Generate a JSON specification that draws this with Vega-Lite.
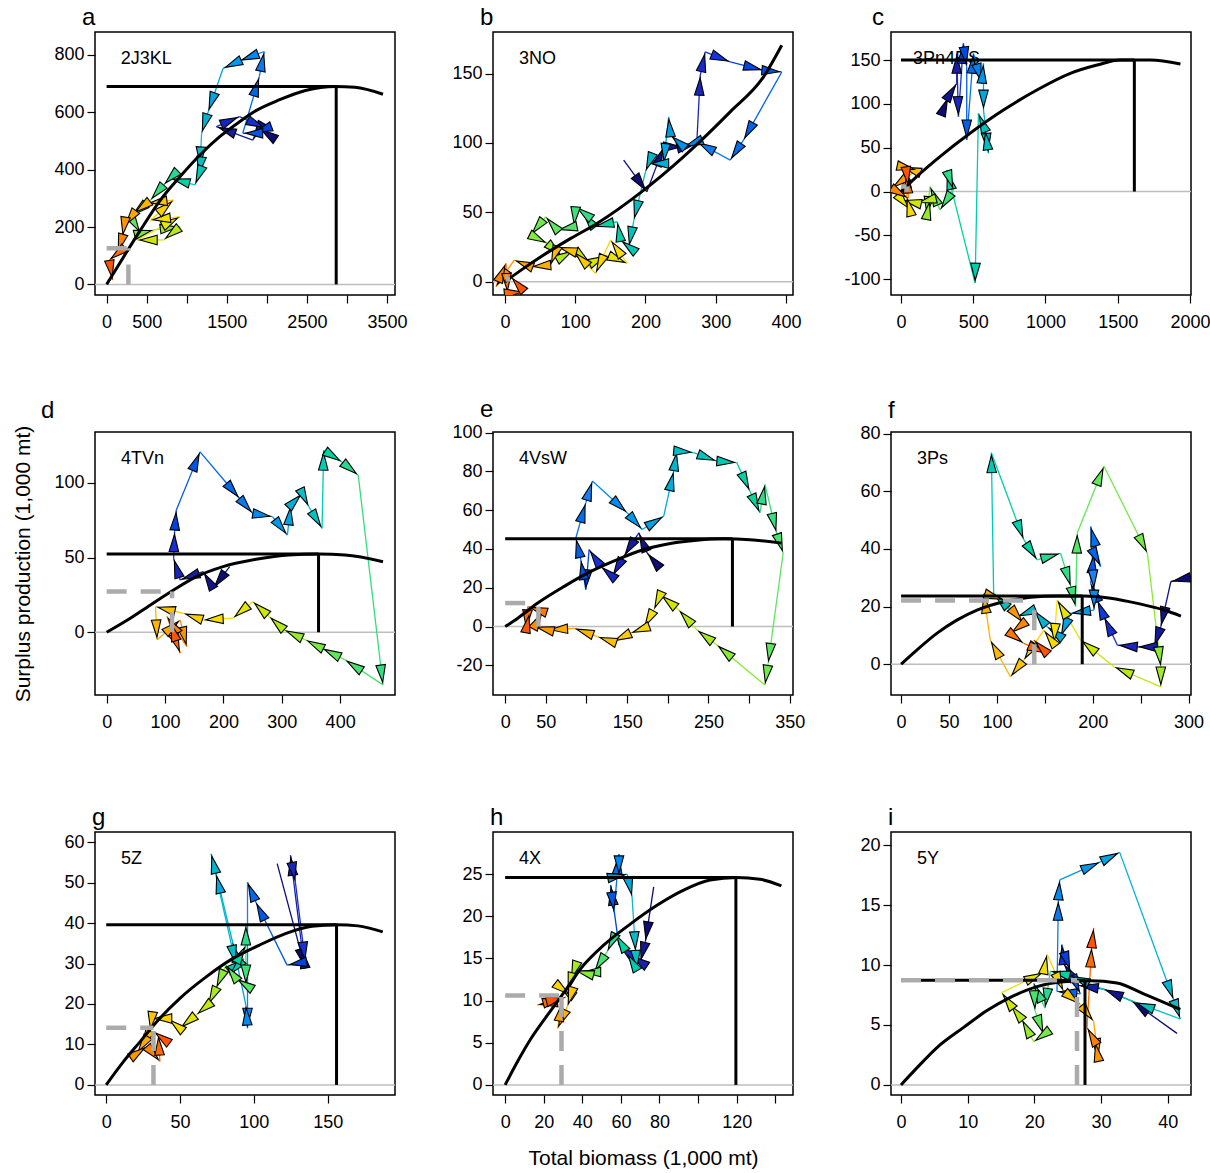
{
"$schema":"https://vega.github.io/schema/vega-lite/v6.json",
"padding":{"left":12,"top":5,"right":4,"bottom":4},
"columns":3,
"spacing":{"row":137,"column":98},
"bounds":"flush",
"resolve":{"scale":{"x":"independent","y":"independent","color":"independent","fill":"independent"},"axis":{"x":"independent","y":"independent"}},
"config":{
 "font":"Liberation Sans",
 "view":{"stroke":"black","strokeWidth":1.5},
 "axis":{"domain":false,"grid":false,"ticks":true,"tickColor":"black","tickSize":8,"tickWidth":1.2,"labelFontSize":18,"labelColor":"black","labelFont":"Liberation Sans","labelFlush":false,"labelOverlap":false,"labelBound":false,"titleFont":"Liberation Sans","titleFontSize":21,"titleFontWeight":"normal","titleColor":"black"},
 "axisX":{"labelPadding":10},
 "axisY":{"labelPadding":3},
 "point":{"shape":"M0,0.3L0.55,2.3L-0.55,2.3Z","filled":true,"opacity":1,"size":300,"stroke":"black","strokeWidth":1.1},
 "title":{"fontSize":24,"fontWeight":"normal","anchor":"start","dx":28,"offset":2,"baseline":"alphabetic","color":"black","font":"Liberation Sans"}
},
"datasets":{
"ta":[{"i":1,"x":2091,"y":509},{"i":2,"x":1906,"y":544},{"i":3,"x":1824,"y":503},{"i":4,"x":1371,"y":550},{"i":5,"x":1659,"y":585},{"i":6,"x":1988,"y":544},{"i":7,"x":1824,"y":527},{"i":8,"x":1700,"y":527},{"i":9,"x":1906,"y":724},{"i":10,"x":1968,"y":812},{"i":11,"x":1659,"y":779},{"i":12,"x":1453,"y":753},{"i":13,"x":1268,"y":602},{"i":14,"x":1186,"y":527},{"i":15,"x":1165,"y":410},{"i":16,"x":1144,"y":376},{"i":17,"x":1103,"y":347},{"i":18,"x":794,"y":370},{"i":19,"x":712,"y":347},{"i":20,"x":548,"y":294},{"i":21,"x":300,"y":236},{"i":22,"x":424,"y":178},{"i":23,"x":589,"y":190},{"i":24,"x":918,"y":201},{"i":25,"x":712,"y":155},{"i":26,"x":383,"y":155},{"i":27,"x":918,"y":236},{"i":28,"x":548,"y":224},{"i":29,"x":836,"y":294},{"i":30,"x":506,"y":283},{"i":31,"x":342,"y":248},{"i":32,"x":218,"y":201},{"i":33,"x":198,"y":166},{"i":34,"x":136,"y":108},{"i":35,"x":33,"y":85},{"i":36,"x":74,"y":15}],
"tb":[{"i":1,"x":169,"y":87.6},{"i":2,"x":202,"y":64.8},{"i":3,"x":226,"y":97.2},{"i":4,"x":254,"y":97.2},{"i":5,"x":273,"y":99.6},{"i":6,"x":278,"y":148.8},{"i":7,"x":285,"y":165.6},{"i":8,"x":320.6,"y":158.4},{"i":9,"x":368,"y":152.4},{"i":10,"x":394,"y":151.2},{"i":11,"x":339.5,"y":102},{"i":12,"x":320.6,"y":87.6},{"i":13,"x":273,"y":100.8},{"i":14,"x":254.4,"y":97.2},{"i":15,"x":235.5,"y":105.6},{"i":16,"x":233,"y":118.8},{"i":17,"x":226,"y":85.2},{"i":18,"x":204.7,"y":85.2},{"i":19,"x":200,"y":79.2},{"i":20,"x":183.5,"y":44.4},{"i":21,"x":176.4,"y":25.2},{"i":22,"x":164.5,"y":30},{"i":23,"x":160,"y":43.2},{"i":24,"x":126.7,"y":39.6},{"i":25,"x":110,"y":50.4},{"i":26,"x":100.7,"y":54},{"i":27,"x":98.3,"y":39.6},{"i":28,"x":74.7,"y":37.2},{"i":29,"x":58,"y":46.8},{"i":30,"x":36.9,"y":33.6},{"i":31,"x":60.5,"y":27.6},{"i":32,"x":81.8,"y":18},{"i":33,"x":98.3,"y":22.8},{"i":34,"x":122,"y":13.2},{"i":35,"x":145.6,"y":19.2},{"i":36,"x":174,"y":13.2},{"i":37,"x":150.4,"y":30},{"i":38,"x":129,"y":6},{"i":39,"x":98.3,"y":21.6},{"i":40,"x":74.7,"y":25.2},{"i":41,"x":65.2,"y":12},{"i":42,"x":36.9,"y":10.8},{"i":43,"x":13.2,"y":15.6},{"i":44,"x":-12.8,"y":-3.6},{"i":45,"x":1.4,"y":13.2},{"i":46,"x":3.8,"y":-8.4},{"i":47,"x":27.4,"y":-7.2},{"i":48,"x":8.5,"y":3.6}],
"tc":[{"i":1,"x":282,"y":89.3},{"i":2,"x":328,"y":108.2},{"i":3,"x":386,"y":123.4},{"i":4,"x":386,"y":157.6},{"i":5,"x":397.5,"y":85.5},{"i":6,"x":432,"y":169},{"i":7,"x":455,"y":142.4},{"i":8,"x":455,"y":58.9},{"i":9,"x":501.5,"y":157.6},{"i":10,"x":559,"y":123.4},{"i":11,"x":571,"y":146.2},{"i":12,"x":571,"y":93},{"i":13,"x":605.5,"y":43.7},{"i":14,"x":582,"y":70.3},{"i":15,"x":536,"y":89.3},{"i":16,"x":513,"y":-104.4},{"i":17,"x":316.6,"y":24.7},{"i":18,"x":362.8,"y":1.9},{"i":19,"x":270.4,"y":-20.9},{"i":20,"x":201,"y":5.7},{"i":21,"x":178,"y":-28.5},{"i":22,"x":201,"y":-9.5},{"i":23,"x":108.6,"y":-13.3},{"i":24,"x":4.6,"y":-9.5},{"i":25,"x":62.4,"y":-20.9},{"i":26,"x":39.3,"y":-5.7},{"i":27,"x":39.3,"y":26.6},{"i":28,"x":4.6,"y":28.5},{"i":29,"x":108.6,"y":24.7},{"i":30,"x":-64.7,"y":3.8},{"i":31,"x":50.8,"y":-7.6},{"i":32,"x":39.3,"y":20.9},{"i":33,"x":50.8,"y":5.7}],
"td":[{"i":1,"x":210.7,"y":43.9},{"i":2,"x":182.5,"y":29.4},{"i":3,"x":165.5,"y":40.5},{"i":4,"x":126,"y":35},{"i":5,"x":114.7,"y":49.4},{"i":6,"x":116.4,"y":67.3},{"i":7,"x":119.2,"y":81.7},{"i":8,"x":160,"y":120.7},{"i":9,"x":227.7,"y":89.5},{"i":10,"x":250.3,"y":79.5},{"i":11,"x":284.2,"y":77.3},{"i":12,"x":309.6,"y":65},{"i":13,"x":315.3,"y":85.1},{"i":14,"x":335,"y":92.9},{"i":15,"x":346.3,"y":84},{"i":16,"x":369,"y":69.5},{"i":17,"x":371.8,"y":121.8},{"i":18,"x":402.8,"y":114},{"i":19,"x":431,"y":105.1},{"i":20,"x":473.4,"y":-35.2},{"i":21,"x":408.5,"y":-18.5},{"i":22,"x":369,"y":-10.7},{"i":23,"x":340.7,"y":-5.1},{"i":24,"x":304,"y":1.6},{"i":25,"x":278.5,"y":10.5},{"i":26,"x":250.3,"y":20.5},{"i":27,"x":216.4,"y":9.4},{"i":28,"x":165.5,"y":8.2},{"i":29,"x":131.6,"y":12.7},{"i":30,"x":83.6,"y":17.1},{"i":31,"x":86.4,"y":-5.1},{"i":32,"x":126,"y":8.2},{"i":33,"x":137.3,"y":-9.6},{"i":34,"x":103.4,"y":10.5},{"i":35,"x":126,"y":-14},{"i":36,"x":109,"y":7.1}],
"te":[{"i":1,"x":186.9,"y":31.9},{"i":2,"x":174.6,"y":37.9},{"i":3,"x":164.4,"y":48.3},{"i":4,"x":146,"y":36.2},{"i":5,"x":131.8,"y":25.9},{"i":6,"x":117.5,"y":31},{"i":7,"x":103.2,"y":39.7},{"i":8,"x":99.1,"y":19},{"i":9,"x":93,"y":34.5},{"i":10,"x":86.9,"y":45.7},{"i":11,"x":99.1,"y":63.8},{"i":12,"x":107.3,"y":75},{"i":13,"x":150.1,"y":58.6},{"i":14,"x":168.5,"y":50},{"i":15,"x":195,"y":56.9},{"i":16,"x":207.3,"y":80.2},{"i":17,"x":211.3,"y":90.5},{"i":18,"x":231.7,"y":89.7},{"i":19,"x":260.3,"y":85.3},{"i":20,"x":284.8,"y":84.5},{"i":21,"x":301,"y":69.8},{"i":22,"x":313.3,"y":58.6},{"i":23,"x":319.5,"y":73.3},{"i":24,"x":333.7,"y":48.3},{"i":25,"x":341.9,"y":37.9},{"i":26,"x":323.5,"y":-19},{"i":27,"x":319.5,"y":-30.2},{"i":28,"x":260.3,"y":-9.5},{"i":29,"x":235.8,"y":-1.7},{"i":30,"x":213.4,"y":8.6},{"i":31,"x":191,"y":16.4},{"i":32,"x":182.8,"y":8.6},{"i":33,"x":170.5,"y":-0.9},{"i":34,"x":154.2,"y":-3.4},{"i":35,"x":131.8,"y":-7.8},{"i":36,"x":113.4,"y":-5.2},{"i":37,"x":84.9,"y":-0.9},{"i":38,"x":52.2,"y":-1.7},{"i":39,"x":35.9,"y":0},{"i":40,"x":46.1,"y":7.8},{"i":41,"x":27.7,"y":10.3},{"i":42,"x":25.7,"y":-1.7},{"i":43,"x":29.8,"y":6.9}],
"tf":[{"i":1,"x":305.9,"y":30.4},{"i":2,"x":281.5,"y":28.7},{"i":3,"x":271,"y":13},{"i":4,"x":264,"y":6},{"i":5,"x":246.6,"y":6},{"i":6,"x":225.7,"y":6.6},{"i":7,"x":211.7,"y":16.5},{"i":8,"x":204.7,"y":22.3},{"i":9,"x":197.8,"y":28.1},{"i":10,"x":201.3,"y":38.5},{"i":11,"x":208.2,"y":33.9},{"i":12,"x":197.8,"y":47.8},{"i":13,"x":201.3,"y":25.8},{"i":14,"x":201.3,"y":18.8},{"i":15,"x":176.8,"y":17.6},{"i":16,"x":166.4,"y":9.5},{"i":17,"x":152.4,"y":13},{"i":18,"x":138.5,"y":18.8},{"i":19,"x":121,"y":16.5},{"i":20,"x":96.6,"y":24.6},{"i":21,"x":94.2,"y":73.4},{"i":22,"x":128,"y":43.2},{"i":23,"x":142,"y":36.2},{"i":24,"x":166.4,"y":38.5},{"i":25,"x":177.2,"y":26.9},{"i":26,"x":182.1,"y":20},{"i":27,"x":183.8,"y":45.5},{"i":28,"x":211.7,"y":68.7},{"i":29,"x":257,"y":38.5},{"i":30,"x":271,"y":-0.9},{"i":31,"x":271,"y":-7.9},{"i":32,"x":222.2,"y":-0.9},{"i":33,"x":187.3,"y":8.4},{"i":34,"x":162.9,"y":22.3},{"i":35,"x":159.4,"y":7.2},{"i":36,"x":148.9,"y":11.8},{"i":37,"x":128,"y":1.4},{"i":38,"x":114.1,"y":-4.4},{"i":39,"x":93.1,"y":8.4},{"i":40,"x":86.1,"y":24.6},{"i":41,"x":107.1,"y":22.3},{"i":42,"x":128,"y":14.2},{"i":43,"x":114.1,"y":10.7},{"i":44,"x":128,"y":7.2},{"i":45,"x":152.4,"y":3.7},{"i":46,"x":138.5,"y":8.4}],
"tg":[{"i":1,"x":115.8,"y":54.7},{"i":2,"x":134.8,"y":28.8},{"i":3,"x":132.6,"y":33.7},{"i":4,"x":124.8,"y":56.7},{"i":5,"x":128.1,"y":50.1},{"i":6,"x":134.8,"y":30.4},{"i":7,"x":122.5,"y":29.6},{"i":8,"x":101.3,"y":45.2},{"i":9,"x":95.7,"y":50.1},{"i":10,"x":95.7,"y":14},{"i":11,"x":94.6,"y":19.7},{"i":12,"x":85.6,"y":35.3},{"i":13,"x":74.4,"y":52.2},{"i":14,"x":71.1,"y":57.1},{"i":15,"x":87.9,"y":29.6},{"i":16,"x":93.4,"y":31.2},{"i":17,"x":83.4,"y":27.1},{"i":18,"x":94.6,"y":34.5},{"i":19,"x":94.6,"y":39.5},{"i":20,"x":94.6,"y":24.7},{"i":21,"x":87.9,"y":26.3},{"i":22,"x":81.2,"y":29.6},{"i":23,"x":74.4,"y":23.8},{"i":24,"x":68.9,"y":19.7},{"i":25,"x":61,"y":17.3},{"i":26,"x":49.9,"y":14},{"i":27,"x":41.8,"y":16.4},{"i":28,"x":30.9,"y":16.4},{"i":29,"x":29.7,"y":13.2},{"i":30,"x":23,"y":9},{"i":31,"x":20.8,"y":7.8},{"i":32,"x":27.5,"y":9.5},{"i":33,"x":36.4,"y":5.8},{"i":34,"x":35.3,"y":12.3},{"i":35,"x":32,"y":13.2}],
"th":[{"i":1,"x":77,"y":23.5},{"i":2,"x":72.7,"y":17},{"i":3,"x":70.1,"y":14.6},{"i":4,"x":65,"y":15.4},{"i":5,"x":58.9,"y":16.6},{"i":6,"x":54.7,"y":23.7},{"i":7,"x":56.4,"y":20.5},{"i":8,"x":59,"y":27.4},{"i":9,"x":59,"y":24.8},{"i":10,"x":63.3,"y":25},{"i":11,"x":65.8,"y":22.3},{"i":12,"x":67.6,"y":15.8},{"i":13,"x":68.4,"y":13.6},{"i":14,"x":63.3,"y":15.6},{"i":15,"x":57.2,"y":17.9},{"i":16,"x":52.9,"y":15.8},{"i":17,"x":46.1,"y":13.4},{"i":18,"x":39.2,"y":13.4},{"i":19,"x":35.8,"y":13.6},{"i":20,"x":34,"y":12.4},{"i":21,"x":32.3,"y":11},{"i":22,"x":27.2,"y":11.8},{"i":23,"x":34,"y":10.6},{"i":24,"x":32.3,"y":9.3},{"i":25,"x":27.2,"y":6.7},{"i":26,"x":29.7,"y":9.9},{"i":27,"x":16.8,"y":9.5},{"i":28,"x":29.7,"y":10.3},{"i":29,"x":31.5,"y":10.4}],
"ti":[{"i":1,"x":41.4,"y":4.3},{"i":2,"x":34.6,"y":7},{"i":3,"x":30.4,"y":8},{"i":4,"x":26.6,"y":8.3},{"i":5,"x":24.4,"y":10.1},{"i":6,"x":24.1,"y":11.7},{"i":7,"x":25.4,"y":9.5},{"i":8,"x":26.9,"y":7.6},{"i":9,"x":23.4,"y":7.8},{"i":10,"x":23.6,"y":15.4},{"i":11,"x":23.8,"y":17.1},{"i":12,"x":29.9,"y":18.6},{"i":13,"x":32.8,"y":19.4},{"i":14,"x":40.9,"y":7.1},{"i":15,"x":41.9,"y":5.5},{"i":16,"x":35.1,"y":6.9},{"i":17,"x":25.4,"y":9.1},{"i":18,"x":22.4,"y":9.5},{"i":19,"x":21.6,"y":6.4},{"i":20,"x":19.9,"y":8.5},{"i":21,"x":20.1,"y":6.2},{"i":22,"x":21.4,"y":4.2},{"i":23,"x":19.9,"y":3.6},{"i":24,"x":18.1,"y":5.5},{"i":25,"x":16.4,"y":6.7},{"i":26,"x":15.1,"y":7.7},{"i":27,"x":21.4,"y":9.4},{"i":28,"x":21.9,"y":10.9},{"i":29,"x":24.4,"y":7.8},{"i":30,"x":26.9,"y":6.7},{"i":31,"x":28.9,"y":5.3},{"i":32,"x":29.6,"y":2.2},{"i":33,"x":29.1,"y":3.6},{"i":34,"x":27.9,"y":4.8},{"i":35,"x":28.6,"y":11.5},{"i":36,"x":28.9,"y":13.1}],
"ca":[{"x":0,"y":0},{"x":239,"y":108},{"x":424,"y":190},{"x":671,"y":294},{"x":918,"y":376},{"x":1165,"y":451},{"x":1412,"y":515},{"x":1659,"y":567},{"x":1865,"y":606},{"x":2153,"y":643},{"x":2482,"y":676},{"x":2853,"y":690},{"x":3100,"y":687},{"x":3450,"y":663}],
"cb":[{"x":0,"y":0},{"x":36.9,"y":13.2},{"x":93.6,"y":31.2},{"x":131,"y":42},{"x":197.6,"y":66},{"x":254,"y":90},{"x":320.6,"y":122.4},{"x":368,"y":147.6},{"x":394,"y":170.4}],
"cc":[{"x":0,"y":0},{"x":108.6,"y":17.1},{"x":270,"y":39.9},{"x":478,"y":66.5},{"x":709,"y":93},{"x":940.6,"y":115.8},{"x":1172,"y":134.8},{"x":1357,"y":144.3},{"x":1518,"y":150},{"x":1726,"y":150},{"x":1934,"y":145.5}],
"cd":[{"x":0,"y":0},{"x":35.6,"y":8.2},{"x":75,"y":18.3},{"x":114.7,"y":28.3},{"x":154,"y":37.2},{"x":199.4,"y":43.9},{"x":256,"y":48.8},{"x":312,"y":51.7},{"x":363,"y":52.3},{"x":408.5,"y":51.7},{"x":473.4,"y":47.2}],
"ce":[{"x":0,"y":0},{"x":15.5,"y":4.3},{"x":40,"y":12.1},{"x":72.6,"y":20.7},{"x":105.3,"y":28.4},{"x":137.9,"y":34.5},{"x":170.5,"y":39.7},{"x":203.2,"y":42.8},{"x":235.8,"y":44.5},{"x":268.5,"y":45.2},{"x":301.1,"y":44.8},{"x":340,"y":43}],
"cf":[{"x":0,"y":0},{"x":16.4,"y":4.9},{"x":37.3,"y":10.7},{"x":58.2,"y":15.3},{"x":79.2,"y":18.8},{"x":107,"y":21.7},{"x":135,"y":23.2},{"x":163,"y":23.7},{"x":190.8,"y":23.7},{"x":218.7,"y":22.9},{"x":246.6,"y":21.1},{"x":274.5,"y":18.8},{"x":292,"y":16.7}],
"cg":[{"x":0,"y":0},{"x":11.8,"y":5.8},{"x":23,"y":10.7},{"x":34.2,"y":15.6},{"x":49.9,"y":21.4},{"x":67.7,"y":26.7},{"x":85.6,"y":31.2},{"x":103.5,"y":34.5},{"x":121.4,"y":37.4},{"x":139.3,"y":39.2},{"x":156,"y":39.6},{"x":170.6,"y":39.3},{"x":187.3,"y":37.8}],
"ch":[{"x":0,"y":0},{"x":6.5,"y":2.8},{"x":13.4,"y":5.5},{"x":22,"y":8.3},{"x":30.6,"y":11},{"x":39.2,"y":13.8},{"x":51.2,"y":16.6},{"x":65,"y":19.1},{"x":78.7,"y":21.3},{"x":92.5,"y":23.1},{"x":106.2,"y":24.3},{"x":120,"y":24.6},{"x":132,"y":24.4},{"x":143.2,"y":23.6}],
"ci":[{"x":0,"y":0},{"x":2.35,"y":1.4},{"x":5.36,"y":3.1},{"x":9.4,"y":4.8},{"x":12.9,"y":6.2},{"x":16.4,"y":7.3},{"x":20.4,"y":8.2},{"x":24.4,"y":8.6},{"x":28.4,"y":8.7},{"x":32.4,"y":8.5},{"x":36.4,"y":7.6},{"x":41.9,"y":6.3}],
"ra":[{"k":"m","x":0,"x2":2866,"y":690,"y2":690},{"k":"m","x":2866,"x2":2866,"y":0,"y2":690},{"k":"g","x":0,"x2":272,"y":126,"y2":126},{"k":"g","x":272,"x2":272,"y":0,"y2":126}],
"rb":[{"k":"g","x":0,"x2":4,"y":3.6,"y2":3.6},{"k":"g","x":4,"x2":4,"y":0,"y2":3.6}],
"rc":[{"k":"m","x":0,"x2":1615,"y":150,"y2":150},{"k":"m","x":1615,"x2":1615,"y":0,"y2":150},{"k":"g","x":0,"x2":39,"y":5.7,"y2":5.7},{"k":"g","x":39,"x2":39,"y":0,"y2":5.7}],
"rd":[{"k":"m","x":0,"x2":363,"y":52.3,"y2":52.3},{"k":"m","x":363,"x2":363,"y":0,"y2":52.3},{"k":"g","x":0,"x2":112,"y":27.2,"y2":27.2},{"k":"g","x":112,"x2":112,"y":0,"y2":27.2}],
"re":[{"k":"m","x":0,"x2":279.5,"y":45.2,"y2":45.2},{"k":"m","x":279.5,"x2":279.5,"y":0,"y2":45.2},{"k":"g","x":0,"x2":40.8,"y":12.1,"y2":12.1},{"k":"g","x":40.8,"x2":40.8,"y":0,"y2":12.1}],
"rf":[{"k":"m","x":0,"x2":189,"y":23.7,"y2":23.7},{"k":"m","x":189,"x2":189,"y":0,"y2":23.7},{"k":"g","x":0,"x2":139,"y":22.1,"y2":22.1},{"k":"g","x":139,"x2":139,"y":0,"y2":22.1}],
"rg":[{"k":"m","x":0,"x2":156,"y":39.6,"y2":39.6},{"k":"m","x":156,"x2":156,"y":0,"y2":39.6},{"k":"g","x":0,"x2":32,"y":14.1,"y2":14.1},{"k":"g","x":32,"x2":32,"y":0,"y2":14.1}],
"rh":[{"k":"m","x":0,"x2":119.6,"y":24.6,"y2":24.6},{"k":"m","x":119.6,"x2":119.6,"y":0,"y2":24.6},{"k":"g","x":0,"x2":29.2,"y":10.6,"y2":10.6},{"k":"g","x":29.2,"x2":29.2,"y":0,"y2":10.6}],
"ri":[{"k":"m","x":0,"x2":27.6,"y":8.73,"y2":8.73},{"k":"m","x":27.6,"x2":27.6,"y":0,"y2":8.73},{"k":"g","x":0,"x2":26.4,"y":8.73,"y2":8.73},{"k":"g","x":26.4,"x2":26.4,"y":0,"y2":8.73}]
},
"concat":[
{"width":300,"height":263,"title":{"text":"a"},"layer":[
 {"data":{"values":[{}]},"mark":{"type":"rule","color":"#BEBEBE","strokeWidth":1.5},"encoding":{"y":{"datum":0,"type":"quantitative","scale":{"domain":[-37,880],"nice":false,"zero":false},"axis":{"values":[0,200,400,600,800],"labelExpr":"''+datum.value","title":null}}}},
 {"data":{"name":"ta"},"transform":[{"window":[{"op":"lag","field":"x","as":"px"},{"op":"lag","field":"y","as":"py"}],"sort":[{"field":"i","order":"ascending"}]},{"filter":"isValid(datum.px)"}],"layer":[
  {"mark":{"type":"rule","strokeWidth":1.3,"clip":true},"encoding":{"x":{"field":"px","type":"quantitative","scale":{"domain":[-145,3600],"nice":false,"zero":false},"axis":{"values":[0,500,1000,1500,2000,2500,3000,3500],"labelExpr":"indexof([1000,2000,3000],datum.value)>=0?'':''+datum.value","title":null}},"y":{"field":"py","type":"quantitative","scale":{"domain":[-37,880],"nice":false,"zero":false}},"x2":{"field":"x"},"y2":{"field":"y"},"color":{"field":"i","type":"quantitative","scale":{"domain":[2,6.25,10.5,14.75,19,23.25,27.5,31.75,36],"range":["#0D0D73","#1830D8","#1E80F0","#20B8C8","#26D890","#7CEB3A","#F5E400","#FFAA00","#FF5500"]},"legend":null}}},
  {"mark":{"type":"point","clip":true,"angle":{"expr":"atan2((datum.x-datum.px)*0.0801,(datum.y-datum.py)*0.2868)*180/PI"}},"encoding":{"x":{"field":"x","type":"quantitative","scale":{"domain":[-145,3600],"nice":false,"zero":false}},"y":{"field":"y","type":"quantitative","scale":{"domain":[-37,880],"nice":false,"zero":false}},"fill":{"field":"i","type":"quantitative","scale":{"domain":[2,6.25,10.5,14.75,19,23.25,27.5,31.75,36],"range":["#0D0D73","#1830D8","#1E80F0","#20B8C8","#26D890","#7CEB3A","#F5E400","#FFAA00","#FF5500"]},"legend":null}}}
 ]},
 {"data":{"name":"ca"},"mark":{"type":"line","color":"black","strokeWidth":3,"clip":true,"interpolate":"monotone"},"encoding":{"x":{"field":"x","type":"quantitative","scale":{"domain":[-145,3600],"nice":false,"zero":false}},"y":{"field":"y","type":"quantitative","scale":{"domain":[-37,880],"nice":false,"zero":false}}}},
 {"data":{"name":"ra"},"transform":[{"filter":"datum.k=='m'"}],"mark":{"type":"rule","color":"black","strokeWidth":3},"encoding":{"x":{"field":"x","type":"quantitative","scale":{"domain":[-145,3600],"nice":false,"zero":false}},"x2":{"field":"x2"},"y":{"field":"y","type":"quantitative","scale":{"domain":[-37,880],"nice":false,"zero":false}},"y2":{"field":"y2"}}},
 {"data":{"name":"ra"},"transform":[{"filter":"datum.k=='g'"}],"mark":{"type":"rule","color":"#ABABAB","strokeWidth":4.5,"strokeDash":[20,14]},"encoding":{"x":{"field":"x","type":"quantitative","scale":{"domain":[-145,3600],"nice":false,"zero":false}},"x2":{"field":"x2"},"y":{"field":"y","type":"quantitative","scale":{"domain":[-37,880],"nice":false,"zero":false}},"y2":{"field":"y2"}}},
 {"data":{"values":[{"s":"2J3KL"}]},"mark":{"type":"text","align":"left","baseline":"middle","fontSize":18,"color":"black"},"encoding":{"x":{"datum":176,"type":"quantitative","scale":{"domain":[-145,3600],"nice":false,"zero":false}},"y":{"datum":786,"type":"quantitative","scale":{"domain":[-37,880],"nice":false,"zero":false}},"text":{"field":"s"}}}
]},
{"width":300,"height":263,"title":{"text":"b"},"layer":[
 {"data":{"values":[{}]},"mark":{"type":"rule","color":"#BEBEBE","strokeWidth":1.5},"encoding":{"y":{"datum":0,"type":"quantitative","scale":{"domain":[-9.6,180],"nice":false,"zero":false},"axis":{"values":[0,50,100,150],"labelExpr":"''+datum.value","title":null}}}},
 {"data":{"name":"tb"},"transform":[{"window":[{"op":"lag","field":"x","as":"px"},{"op":"lag","field":"y","as":"py"}],"sort":[{"field":"i","order":"ascending"}]},{"filter":"isValid(datum.px)"}],"layer":[
  {"mark":{"type":"rule","strokeWidth":1.3,"clip":true},"encoding":{"x":{"field":"px","type":"quantitative","scale":{"domain":[-17,410],"nice":false,"zero":false},"axis":{"values":[0,100,200,300,400],"labelExpr":"''+datum.value","title":null}},"y":{"field":"py","type":"quantitative","scale":{"domain":[-9.6,180],"nice":false,"zero":false}},"x2":{"field":"x"},"y2":{"field":"y"},"color":{"field":"i","type":"quantitative","scale":{"domain":[2,7.75,13.5,19.25,25,30.75,36.5,42.25,48],"range":["#0D0D73","#1830D8","#1E80F0","#20B8C8","#26D890","#7CEB3A","#F5E400","#FFAA00","#FF5500"]},"legend":null}}},
  {"mark":{"type":"point","clip":true,"angle":{"expr":"atan2((datum.x-datum.px)*0.7026,(datum.y-datum.py)*1.387)*180/PI"}},"encoding":{"x":{"field":"x","type":"quantitative","scale":{"domain":[-17,410],"nice":false,"zero":false}},"y":{"field":"y","type":"quantitative","scale":{"domain":[-9.6,180],"nice":false,"zero":false}},"fill":{"field":"i","type":"quantitative","scale":{"domain":[2,7.75,13.5,19.25,25,30.75,36.5,42.25,48],"range":["#0D0D73","#1830D8","#1E80F0","#20B8C8","#26D890","#7CEB3A","#F5E400","#FFAA00","#FF5500"]},"legend":null}}}
 ]},
 {"data":{"name":"cb"},"mark":{"type":"line","color":"black","strokeWidth":3,"clip":true,"interpolate":"monotone"},"encoding":{"x":{"field":"x","type":"quantitative","scale":{"domain":[-17,410],"nice":false,"zero":false}},"y":{"field":"y","type":"quantitative","scale":{"domain":[-9.6,180],"nice":false,"zero":false}}}},
 {"data":{"name":"rb"},"transform":[{"filter":"datum.k=='g'"}],"mark":{"type":"rule","color":"#ABABAB","strokeWidth":4.5,"strokeDash":[20,14]},"encoding":{"x":{"field":"x","type":"quantitative","scale":{"domain":[-17,410],"nice":false,"zero":false}},"x2":{"field":"x2"},"y":{"field":"y","type":"quantitative","scale":{"domain":[-9.6,180],"nice":false,"zero":false}},"y2":{"field":"y2"}}},
 {"data":{"values":[{"s":"3NO"}]},"mark":{"type":"text","align":"left","baseline":"middle","fontSize":18,"color":"black"},"encoding":{"x":{"datum":19.9,"type":"quantitative","scale":{"domain":[-17,410],"nice":false,"zero":false}},"y":{"datum":160.6,"type":"quantitative","scale":{"domain":[-9.6,180],"nice":false,"zero":false}},"text":{"field":"s"}}}
]},
{"width":300,"height":263,"title":{"text":"c"},"layer":[
 {"data":{"values":[{}]},"mark":{"type":"rule","color":"#BEBEBE","strokeWidth":1.5},"encoding":{"y":{"datum":0,"type":"quantitative","scale":{"domain":[-118,182],"nice":false,"zero":false},"axis":{"values":[-100,-50,0,50,100,150],"labelExpr":"''+datum.value","title":null}}}},
 {"data":{"values":[{"s":"3Pn4RS"}]},"mark":{"type":"text","align":"left","baseline":"middle","fontSize":18,"color":"black"},"encoding":{"x":{"datum":83,"type":"quantitative","scale":{"domain":[-69,2007],"nice":false,"zero":false}},"y":{"datum":151,"type":"quantitative","scale":{"domain":[-118,182],"nice":false,"zero":false}},"text":{"field":"s"}}},
 {"data":{"name":"tc"},"transform":[{"window":[{"op":"lag","field":"x","as":"px"},{"op":"lag","field":"y","as":"py"}],"sort":[{"field":"i","order":"ascending"}]},{"filter":"isValid(datum.px)"}],"layer":[
  {"mark":{"type":"rule","strokeWidth":1.3,"clip":true},"encoding":{"x":{"field":"px","type":"quantitative","scale":{"domain":[-69,2007],"nice":false,"zero":false},"axis":{"values":[0,500,1000,1500,2000],"labelExpr":"''+datum.value","title":null}},"y":{"field":"py","type":"quantitative","scale":{"domain":[-118,182],"nice":false,"zero":false}},"x2":{"field":"x"},"y2":{"field":"y"},"color":{"field":"i","type":"quantitative","scale":{"domain":[2,5.875,9.75,13.625,17.5,21.375,25.25,29.125,33],"range":["#0D0D73","#1830D8","#1E80F0","#20B8C8","#26D890","#7CEB3A","#F5E400","#FFAA00","#FF5500"]},"legend":null}}},
  {"mark":{"type":"point","clip":true,"angle":{"expr":"atan2((datum.x-datum.px)*0.1445,(datum.y-datum.py)*0.877)*180/PI"}},"encoding":{"x":{"field":"x","type":"quantitative","scale":{"domain":[-69,2007],"nice":false,"zero":false}},"y":{"field":"y","type":"quantitative","scale":{"domain":[-118,182],"nice":false,"zero":false}},"fill":{"field":"i","type":"quantitative","scale":{"domain":[2,5.875,9.75,13.625,17.5,21.375,25.25,29.125,33],"range":["#0D0D73","#1830D8","#1E80F0","#20B8C8","#26D890","#7CEB3A","#F5E400","#FFAA00","#FF5500"]},"legend":null}}}
 ]},
 {"data":{"name":"cc"},"mark":{"type":"line","color":"black","strokeWidth":3,"clip":true,"interpolate":"monotone"},"encoding":{"x":{"field":"x","type":"quantitative","scale":{"domain":[-69,2007],"nice":false,"zero":false}},"y":{"field":"y","type":"quantitative","scale":{"domain":[-118,182],"nice":false,"zero":false}}}},
 {"data":{"name":"rc"},"transform":[{"filter":"datum.k=='m'"}],"mark":{"type":"rule","color":"black","strokeWidth":3},"encoding":{"x":{"field":"x","type":"quantitative","scale":{"domain":[-69,2007],"nice":false,"zero":false}},"x2":{"field":"x2"},"y":{"field":"y","type":"quantitative","scale":{"domain":[-118,182],"nice":false,"zero":false}},"y2":{"field":"y2"}}},
 {"data":{"name":"rc"},"transform":[{"filter":"datum.k=='g'"}],"mark":{"type":"rule","color":"#ABABAB","strokeWidth":4.5,"strokeDash":[20,14]},"encoding":{"x":{"field":"x","type":"quantitative","scale":{"domain":[-69,2007],"nice":false,"zero":false}},"x2":{"field":"x2"},"y":{"field":"y","type":"quantitative","scale":{"domain":[-118,182],"nice":false,"zero":false}},"y2":{"field":"y2"}}}
]},
{"width":300,"height":263,"title":{"text":"d"},"layer":[
 {"data":{"values":[{}]},"mark":{"type":"rule","color":"#BEBEBE","strokeWidth":1.5},"encoding":{"y":{"datum":0,"type":"quantitative","scale":{"domain":[-42,134],"nice":false,"zero":false},"axis":{"values":[0,50,100],"labelExpr":"''+datum.value","title":"Surplus production (1,000 mt)","titlePadding":20}}}},
 {"data":{"name":"td"},"transform":[{"window":[{"op":"lag","field":"x","as":"px"},{"op":"lag","field":"y","as":"py"}],"sort":[{"field":"i","order":"ascending"}]},{"filter":"isValid(datum.px)"}],"layer":[
  {"mark":{"type":"rule","strokeWidth":1.3,"clip":true},"encoding":{"x":{"field":"px","type":"quantitative","scale":{"domain":[-20,494],"nice":false,"zero":false},"axis":{"values":[0,100,200,300,400],"labelExpr":"''+datum.value","title":null}},"y":{"field":"py","type":"quantitative","scale":{"domain":[-42,134],"nice":false,"zero":false}},"x2":{"field":"x"},"y2":{"field":"y"},"color":{"field":"i","type":"quantitative","scale":{"domain":[2,6.25,10.5,14.75,19,23.25,27.5,31.75,36],"range":["#0D0D73","#1830D8","#1E80F0","#20B8C8","#26D890","#7CEB3A","#F5E400","#FFAA00","#FF5500"]},"legend":null}}},
  {"mark":{"type":"point","clip":true,"angle":{"expr":"atan2((datum.x-datum.px)*0.5837,(datum.y-datum.py)*1.494)*180/PI"}},"encoding":{"x":{"field":"x","type":"quantitative","scale":{"domain":[-20,494],"nice":false,"zero":false}},"y":{"field":"y","type":"quantitative","scale":{"domain":[-42,134],"nice":false,"zero":false}},"fill":{"field":"i","type":"quantitative","scale":{"domain":[2,6.25,10.5,14.75,19,23.25,27.5,31.75,36],"range":["#0D0D73","#1830D8","#1E80F0","#20B8C8","#26D890","#7CEB3A","#F5E400","#FFAA00","#FF5500"]},"legend":null}}}
 ]},
 {"data":{"name":"cd"},"mark":{"type":"line","color":"black","strokeWidth":3,"clip":true,"interpolate":"monotone"},"encoding":{"x":{"field":"x","type":"quantitative","scale":{"domain":[-20,494],"nice":false,"zero":false}},"y":{"field":"y","type":"quantitative","scale":{"domain":[-42,134],"nice":false,"zero":false}}}},
 {"data":{"name":"rd"},"transform":[{"filter":"datum.k=='m'"}],"mark":{"type":"rule","color":"black","strokeWidth":3},"encoding":{"x":{"field":"x","type":"quantitative","scale":{"domain":[-20,494],"nice":false,"zero":false}},"x2":{"field":"x2"},"y":{"field":"y","type":"quantitative","scale":{"domain":[-42,134],"nice":false,"zero":false}},"y2":{"field":"y2"}}},
 {"data":{"name":"rd"},"transform":[{"filter":"datum.k=='g'"}],"mark":{"type":"rule","color":"#ABABAB","strokeWidth":4.5,"strokeDash":[20,14]},"encoding":{"x":{"field":"x","type":"quantitative","scale":{"domain":[-20,494],"nice":false,"zero":false}},"x2":{"field":"x2"},"y":{"field":"y","type":"quantitative","scale":{"domain":[-42,134],"nice":false,"zero":false}},"y2":{"field":"y2"}}},
 {"data":{"values":[{"s":"4TVn"}]},"mark":{"type":"text","align":"left","baseline":"middle","fontSize":18,"color":"black"},"encoding":{"x":{"datum":24.5,"type":"quantitative","scale":{"domain":[-20,494],"nice":false,"zero":false}},"y":{"datum":115.9,"type":"quantitative","scale":{"domain":[-42,134],"nice":false,"zero":false}},"text":{"field":"s"}}}
]},
{"width":300,"height":263,"title":{"text":"e"},"layer":[
 {"data":{"values":[{}]},"mark":{"type":"rule","color":"#BEBEBE","strokeWidth":1.5},"encoding":{"y":{"datum":0,"type":"quantitative","scale":{"domain":[-35.3,100.3],"nice":false,"zero":false},"axis":{"values":[-20,0,20,40,60,80,100],"labelExpr":"''+datum.value","title":null}}}},
 {"data":{"name":"te"},"transform":[{"window":[{"op":"lag","field":"x","as":"px"},{"op":"lag","field":"y","as":"py"}],"sort":[{"field":"i","order":"ascending"}]},{"filter":"isValid(datum.px)"}],"layer":[
  {"mark":{"type":"rule","strokeWidth":1.3,"clip":true},"encoding":{"x":{"field":"px","type":"quantitative","scale":{"domain":[-15,354],"nice":false,"zero":false},"axis":{"values":[0,50,100,150,200,250,300,350],"labelExpr":"indexof([100,200,300],datum.value)>=0?'':''+datum.value","title":null}},"y":{"field":"py","type":"quantitative","scale":{"domain":[-35.3,100.3],"nice":false,"zero":false}},"x2":{"field":"x"},"y2":{"field":"y"},"color":{"field":"i","type":"quantitative","scale":{"domain":[2,7.125,12.25,17.375,22.5,27.625,32.75,37.875,43],"range":["#0D0D73","#1830D8","#1E80F0","#20B8C8","#26D890","#7CEB3A","#F5E400","#FFAA00","#FF5500"]},"legend":null}}},
  {"mark":{"type":"point","clip":true,"angle":{"expr":"atan2((datum.x-datum.px)*0.813,(datum.y-datum.py)*1.94)*180/PI"}},"encoding":{"x":{"field":"x","type":"quantitative","scale":{"domain":[-15,354],"nice":false,"zero":false}},"y":{"field":"y","type":"quantitative","scale":{"domain":[-35.3,100.3],"nice":false,"zero":false}},"fill":{"field":"i","type":"quantitative","scale":{"domain":[2,7.125,12.25,17.375,22.5,27.625,32.75,37.875,43],"range":["#0D0D73","#1830D8","#1E80F0","#20B8C8","#26D890","#7CEB3A","#F5E400","#FFAA00","#FF5500"]},"legend":null}}}
 ]},
 {"data":{"name":"ce"},"mark":{"type":"line","color":"black","strokeWidth":3,"clip":true,"interpolate":"monotone"},"encoding":{"x":{"field":"x","type":"quantitative","scale":{"domain":[-15,354],"nice":false,"zero":false}},"y":{"field":"y","type":"quantitative","scale":{"domain":[-35.3,100.3],"nice":false,"zero":false}}}},
 {"data":{"name":"re"},"transform":[{"filter":"datum.k=='m'"}],"mark":{"type":"rule","color":"black","strokeWidth":3},"encoding":{"x":{"field":"x","type":"quantitative","scale":{"domain":[-15,354],"nice":false,"zero":false}},"x2":{"field":"x2"},"y":{"field":"y","type":"quantitative","scale":{"domain":[-35.3,100.3],"nice":false,"zero":false}},"y2":{"field":"y2"}}},
 {"data":{"name":"re"},"transform":[{"filter":"datum.k=='g'"}],"mark":{"type":"rule","color":"#ABABAB","strokeWidth":4.5,"strokeDash":[20,14]},"encoding":{"x":{"field":"x","type":"quantitative","scale":{"domain":[-15,354],"nice":false,"zero":false}},"x2":{"field":"x2"},"y":{"field":"y","type":"quantitative","scale":{"domain":[-35.3,100.3],"nice":false,"zero":false}},"y2":{"field":"y2"}}},
 {"data":{"values":[{"s":"4VsW"}]},"mark":{"type":"text","align":"left","baseline":"middle","fontSize":18,"color":"black"},"encoding":{"x":{"datum":17,"type":"quantitative","scale":{"domain":[-15,354],"nice":false,"zero":false}},"y":{"datum":86.4,"type":"quantitative","scale":{"domain":[-35.3,100.3],"nice":false,"zero":false}},"text":{"field":"s"}}}
]},
{"width":300,"height":263,"title":{"text":"f"},"layer":[
 {"data":{"values":[{}]},"mark":{"type":"rule","color":"#BEBEBE","strokeWidth":1.5},"encoding":{"y":{"datum":0,"type":"quantitative","scale":{"domain":[-10.7,80.6],"nice":false,"zero":false},"axis":{"values":[0,20,40,60,80],"labelExpr":"''+datum.value","title":null}}}},
 {"data":{"name":"tf"},"transform":[{"window":[{"op":"lag","field":"x","as":"px"},{"op":"lag","field":"y","as":"py"}],"sort":[{"field":"i","order":"ascending"}]},{"filter":"isValid(datum.px)"}],"layer":[
  {"mark":{"type":"rule","strokeWidth":1.3,"clip":true},"encoding":{"x":{"field":"px","type":"quantitative","scale":{"domain":[-10.5,302.5],"nice":false,"zero":false},"axis":{"values":[0,50,100,150,200,250,300],"labelExpr":"indexof([150,250],datum.value)>=0?'':''+datum.value","title":null}},"y":{"field":"py","type":"quantitative","scale":{"domain":[-10.7,80.6],"nice":false,"zero":false}},"x2":{"field":"x"},"y2":{"field":"y"},"color":{"field":"i","type":"quantitative","scale":{"domain":[2,7.5,13,18.5,24,29.5,35,40.5,46],"range":["#0D0D73","#1830D8","#1E80F0","#20B8C8","#26D890","#7CEB3A","#F5E400","#FFAA00","#FF5500"]},"legend":null}}},
  {"mark":{"type":"point","clip":true,"angle":{"expr":"atan2((datum.x-datum.px)*0.958,(datum.y-datum.py)*2.881)*180/PI"}},"encoding":{"x":{"field":"x","type":"quantitative","scale":{"domain":[-10.5,302.5],"nice":false,"zero":false}},"y":{"field":"y","type":"quantitative","scale":{"domain":[-10.7,80.6],"nice":false,"zero":false}},"fill":{"field":"i","type":"quantitative","scale":{"domain":[2,7.5,13,18.5,24,29.5,35,40.5,46],"range":["#0D0D73","#1830D8","#1E80F0","#20B8C8","#26D890","#7CEB3A","#F5E400","#FFAA00","#FF5500"]},"legend":null}}}
 ]},
 {"data":{"name":"cf"},"mark":{"type":"line","color":"black","strokeWidth":3,"clip":true,"interpolate":"monotone"},"encoding":{"x":{"field":"x","type":"quantitative","scale":{"domain":[-10.5,302.5],"nice":false,"zero":false}},"y":{"field":"y","type":"quantitative","scale":{"domain":[-10.7,80.6],"nice":false,"zero":false}}}},
 {"data":{"name":"rf"},"transform":[{"filter":"datum.k=='m'"}],"mark":{"type":"rule","color":"black","strokeWidth":3},"encoding":{"x":{"field":"x","type":"quantitative","scale":{"domain":[-10.5,302.5],"nice":false,"zero":false}},"x2":{"field":"x2"},"y":{"field":"y","type":"quantitative","scale":{"domain":[-10.7,80.6],"nice":false,"zero":false}},"y2":{"field":"y2"}}},
 {"data":{"name":"rf"},"transform":[{"filter":"datum.k=='g'"}],"mark":{"type":"rule","color":"#ABABAB","strokeWidth":4.5,"strokeDash":[20,14]},"encoding":{"x":{"field":"x","type":"quantitative","scale":{"domain":[-10.5,302.5],"nice":false,"zero":false}},"x2":{"field":"x2"},"y":{"field":"y","type":"quantitative","scale":{"domain":[-10.7,80.6],"nice":false,"zero":false}},"y2":{"field":"y2"}}},
 {"data":{"values":[{"s":"3Ps"}]},"mark":{"type":"text","align":"left","baseline":"middle","fontSize":18,"color":"black"},"encoding":{"x":{"datum":16.6,"type":"quantitative","scale":{"domain":[-10.5,302.5],"nice":false,"zero":false}},"y":{"datum":71.2,"type":"quantitative","scale":{"domain":[-10.7,80.6],"nice":false,"zero":false}},"text":{"field":"s"}}}
]},
{"width":300,"height":263,"title":{"text":"g"},"layer":[
 {"data":{"values":[{}]},"mark":{"type":"rule","color":"#BEBEBE","strokeWidth":1.5},"encoding":{"y":{"datum":0,"type":"quantitative","scale":{"domain":[-2.5,62.5],"nice":false,"zero":false},"axis":{"values":[0,10,20,30,40,50,60],"labelExpr":"''+datum.value","title":null}}}},
 {"data":{"name":"tg"},"transform":[{"window":[{"op":"lag","field":"x","as":"px"},{"op":"lag","field":"y","as":"py"}],"sort":[{"field":"i","order":"ascending"}]},{"filter":"isValid(datum.px)"}],"layer":[
  {"mark":{"type":"rule","strokeWidth":1.3,"clip":true},"encoding":{"x":{"field":"px","type":"quantitative","scale":{"domain":[-7.6,195.6],"nice":false,"zero":false},"axis":{"values":[0,50,100,150],"labelExpr":"''+datum.value","title":null}},"y":{"field":"py","type":"quantitative","scale":{"domain":[-2.5,62.5],"nice":false,"zero":false}},"x2":{"field":"x"},"y2":{"field":"y"},"color":{"field":"i","type":"quantitative","scale":{"domain":[2,6.125,10.25,14.375,18.5,22.625,26.75,30.875,35],"range":["#0D0D73","#1830D8","#1E80F0","#20B8C8","#26D890","#7CEB3A","#F5E400","#FFAA00","#FF5500"]},"legend":null}}},
  {"mark":{"type":"point","clip":true,"angle":{"expr":"atan2((datum.x-datum.px)*1.476,(datum.y-datum.py)*4.046)*180/PI"}},"encoding":{"x":{"field":"x","type":"quantitative","scale":{"domain":[-7.6,195.6],"nice":false,"zero":false}},"y":{"field":"y","type":"quantitative","scale":{"domain":[-2.5,62.5],"nice":false,"zero":false}},"fill":{"field":"i","type":"quantitative","scale":{"domain":[2,6.125,10.25,14.375,18.5,22.625,26.75,30.875,35],"range":["#0D0D73","#1830D8","#1E80F0","#20B8C8","#26D890","#7CEB3A","#F5E400","#FFAA00","#FF5500"]},"legend":null}}}
 ]},
 {"data":{"name":"cg"},"mark":{"type":"line","color":"black","strokeWidth":3,"clip":true,"interpolate":"monotone"},"encoding":{"x":{"field":"x","type":"quantitative","scale":{"domain":[-7.6,195.6],"nice":false,"zero":false}},"y":{"field":"y","type":"quantitative","scale":{"domain":[-2.5,62.5],"nice":false,"zero":false}}}},
 {"data":{"name":"rg"},"transform":[{"filter":"datum.k=='m'"}],"mark":{"type":"rule","color":"black","strokeWidth":3},"encoding":{"x":{"field":"x","type":"quantitative","scale":{"domain":[-7.6,195.6],"nice":false,"zero":false}},"x2":{"field":"x2"},"y":{"field":"y","type":"quantitative","scale":{"domain":[-2.5,62.5],"nice":false,"zero":false}},"y2":{"field":"y2"}}},
 {"data":{"name":"rg"},"transform":[{"filter":"datum.k=='g'"}],"mark":{"type":"rule","color":"#ABABAB","strokeWidth":4.5,"strokeDash":[20,14]},"encoding":{"x":{"field":"x","type":"quantitative","scale":{"domain":[-7.6,195.6],"nice":false,"zero":false}},"x2":{"field":"x2"},"y":{"field":"y","type":"quantitative","scale":{"domain":[-2.5,62.5],"nice":false,"zero":false}},"y2":{"field":"y2"}}},
 {"data":{"values":[{"s":"5Z"}]},"mark":{"type":"text","align":"left","baseline":"middle","fontSize":18,"color":"black"},"encoding":{"x":{"datum":10,"type":"quantitative","scale":{"domain":[-7.6,195.6],"nice":false,"zero":false}},"y":{"datum":55.8,"type":"quantitative","scale":{"domain":[-2.5,62.5],"nice":false,"zero":false}},"text":{"field":"s"}}}
]},
{"width":300,"height":263,"title":{"text":"h"},"layer":[
 {"data":{"values":[{}]},"mark":{"type":"rule","color":"#BEBEBE","strokeWidth":1.5},"encoding":{"y":{"datum":0,"type":"quantitative","scale":{"domain":[-1.2,30],"nice":false,"zero":false},"axis":{"values":[0,5,10,15,20,25],"labelExpr":"''+datum.value","title":null}}}},
 {"data":{"name":"th"},"transform":[{"window":[{"op":"lag","field":"x","as":"px"},{"op":"lag","field":"y","as":"py"}],"sort":[{"field":"i","order":"ascending"}]},{"filter":"isValid(datum.px)"}],"layer":[
  {"mark":{"type":"rule","strokeWidth":1.3,"clip":true},"encoding":{"x":{"field":"px","type":"quantitative","scale":{"domain":[-6.3,149.2],"nice":false,"zero":false},"axis":{"values":[0,20,40,60,80,100,120,140],"labelExpr":"indexof([100,140],datum.value)>=0?'':''+datum.value","title":"Total biomass (1,000 mt)","titlePadding":16}},"y":{"field":"py","type":"quantitative","scale":{"domain":[-1.2,30],"nice":false,"zero":false}},"x2":{"field":"x"},"y2":{"field":"y"},"color":{"field":"i","type":"quantitative","scale":{"domain":[2,5.375,8.75,12.125,15.5,18.875,22.25,25.625,29],"range":["#0D0D73","#1830D8","#1E80F0","#20B8C8","#26D890","#7CEB3A","#F5E400","#FFAA00","#FF5500"]},"legend":null}}},
  {"mark":{"type":"point","clip":true,"angle":{"expr":"atan2((datum.x-datum.px)*1.929,(datum.y-datum.py)*8.43)*180/PI"}},"encoding":{"x":{"field":"x","type":"quantitative","scale":{"domain":[-6.3,149.2],"nice":false,"zero":false}},"y":{"field":"y","type":"quantitative","scale":{"domain":[-1.2,30],"nice":false,"zero":false}},"fill":{"field":"i","type":"quantitative","scale":{"domain":[2,5.375,8.75,12.125,15.5,18.875,22.25,25.625,29],"range":["#0D0D73","#1830D8","#1E80F0","#20B8C8","#26D890","#7CEB3A","#F5E400","#FFAA00","#FF5500"]},"legend":null}}}
 ]},
 {"data":{"name":"ch"},"mark":{"type":"line","color":"black","strokeWidth":3,"clip":true,"interpolate":"monotone"},"encoding":{"x":{"field":"x","type":"quantitative","scale":{"domain":[-6.3,149.2],"nice":false,"zero":false}},"y":{"field":"y","type":"quantitative","scale":{"domain":[-1.2,30],"nice":false,"zero":false}}}},
 {"data":{"name":"rh"},"transform":[{"filter":"datum.k=='m'"}],"mark":{"type":"rule","color":"black","strokeWidth":3},"encoding":{"x":{"field":"x","type":"quantitative","scale":{"domain":[-6.3,149.2],"nice":false,"zero":false}},"x2":{"field":"x2"},"y":{"field":"y","type":"quantitative","scale":{"domain":[-1.2,30],"nice":false,"zero":false}},"y2":{"field":"y2"}}},
 {"data":{"name":"rh"},"transform":[{"filter":"datum.k=='g'"}],"mark":{"type":"rule","color":"#ABABAB","strokeWidth":4.5,"strokeDash":[20,14]},"encoding":{"x":{"field":"x","type":"quantitative","scale":{"domain":[-6.3,149.2],"nice":false,"zero":false}},"x2":{"field":"x2"},"y":{"field":"y","type":"quantitative","scale":{"domain":[-1.2,30],"nice":false,"zero":false}},"y2":{"field":"y2"}}},
 {"data":{"values":[{"s":"4X"}]},"mark":{"type":"text","align":"left","baseline":"middle","fontSize":18,"color":"black"},"encoding":{"x":{"datum":7.2,"type":"quantitative","scale":{"domain":[-6.3,149.2],"nice":false,"zero":false}},"y":{"datum":26.8,"type":"quantitative","scale":{"domain":[-1.2,30],"nice":false,"zero":false}},"text":{"field":"s"}}}
]},
{"width":300,"height":263,"title":{"text":"i"},"layer":[
 {"data":{"values":[{}]},"mark":{"type":"rule","color":"#BEBEBE","strokeWidth":1.5},"encoding":{"y":{"datum":0,"type":"quantitative","scale":{"domain":[-0.84,21.1],"nice":false,"zero":false},"axis":{"values":[0,5,10,15,20],"labelExpr":"''+datum.value","title":null}}}},
 {"data":{"name":"ti"},"transform":[{"window":[{"op":"lag","field":"x","as":"px"},{"op":"lag","field":"y","as":"py"}],"sort":[{"field":"i","order":"ascending"}]},{"filter":"isValid(datum.px)"}],"layer":[
  {"mark":{"type":"rule","strokeWidth":1.3,"clip":true},"encoding":{"x":{"field":"px","type":"quantitative","scale":{"domain":[-1.5,43.5],"nice":false,"zero":false},"axis":{"values":[0,10,20,30,40],"labelExpr":"''+datum.value","title":null}},"y":{"field":"py","type":"quantitative","scale":{"domain":[-0.84,21.1],"nice":false,"zero":false}},"x2":{"field":"x"},"y2":{"field":"y"},"color":{"field":"i","type":"quantitative","scale":{"domain":[2,6.25,10.5,14.75,19,23.25,27.5,31.75,36],"range":["#0D0D73","#1830D8","#1E80F0","#20B8C8","#26D890","#7CEB3A","#F5E400","#FFAA00","#FF5500"]},"legend":null}}},
  {"mark":{"type":"point","clip":true,"angle":{"expr":"atan2((datum.x-datum.px)*6.667,(datum.y-datum.py)*11.99)*180/PI"}},"encoding":{"x":{"field":"x","type":"quantitative","scale":{"domain":[-1.5,43.5],"nice":false,"zero":false}},"y":{"field":"y","type":"quantitative","scale":{"domain":[-0.84,21.1],"nice":false,"zero":false}},"fill":{"field":"i","type":"quantitative","scale":{"domain":[2,6.25,10.5,14.75,19,23.25,27.5,31.75,36],"range":["#0D0D73","#1830D8","#1E80F0","#20B8C8","#26D890","#7CEB3A","#F5E400","#FFAA00","#FF5500"]},"legend":null}}}
 ]},
 {"data":{"name":"ci"},"mark":{"type":"line","color":"black","strokeWidth":3,"clip":true,"interpolate":"monotone"},"encoding":{"x":{"field":"x","type":"quantitative","scale":{"domain":[-1.5,43.5],"nice":false,"zero":false}},"y":{"field":"y","type":"quantitative","scale":{"domain":[-0.84,21.1],"nice":false,"zero":false}}}},
 {"data":{"name":"ri"},"transform":[{"filter":"datum.k=='m'"}],"mark":{"type":"rule","color":"black","strokeWidth":3},"encoding":{"x":{"field":"x","type":"quantitative","scale":{"domain":[-1.5,43.5],"nice":false,"zero":false}},"x2":{"field":"x2"},"y":{"field":"y","type":"quantitative","scale":{"domain":[-0.84,21.1],"nice":false,"zero":false}},"y2":{"field":"y2"}}},
 {"data":{"name":"ri"},"transform":[{"filter":"datum.k=='g'"}],"mark":{"type":"rule","color":"#ABABAB","strokeWidth":4.5,"strokeDash":[20,14]},"encoding":{"x":{"field":"x","type":"quantitative","scale":{"domain":[-1.5,43.5],"nice":false,"zero":false}},"x2":{"field":"x2"},"y":{"field":"y","type":"quantitative","scale":{"domain":[-0.84,21.1],"nice":false,"zero":false}},"y2":{"field":"y2"}}},
 {"data":{"values":[{"s":"5Y"}]},"mark":{"type":"text","align":"left","baseline":"middle","fontSize":18,"color":"black"},"encoding":{"x":{"datum":2.4,"type":"quantitative","scale":{"domain":[-1.5,43.5],"nice":false,"zero":false}},"y":{"datum":18.85,"type":"quantitative","scale":{"domain":[-0.84,21.1],"nice":false,"zero":false}},"text":{"field":"s"}}}
]}
]
}
